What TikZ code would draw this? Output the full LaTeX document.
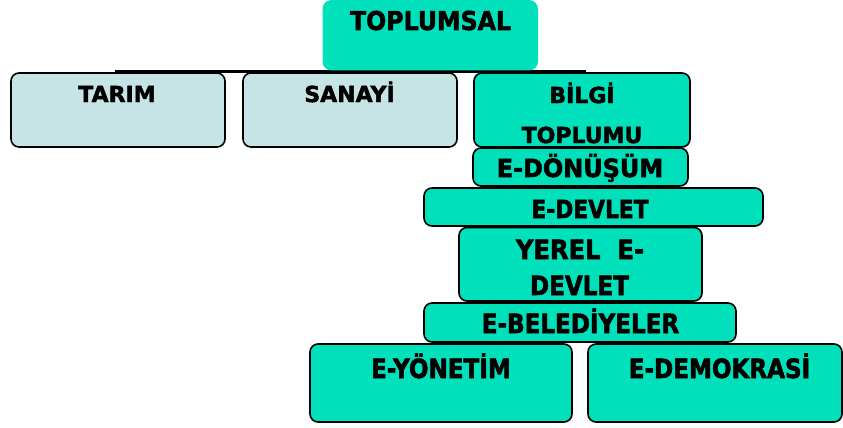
\documentclass[tikz,border=0pt]{standalone}
\usepackage{fontspec}
\setmainfont{DejaVu Sans}
\newfontfamily\topfont{DejaVu Sans}[FakeBold=2]
\newfontfamily\lowfont{DejaVu Sans}[FakeStretch=0.87,FakeBold=2]
\definecolor{teal}{RGB}{0,224,186}
\definecolor{pale}{RGB}{198,228,230}
\begin{document}
\begin{tikzpicture}[x=1pt,y=-1pt,
  boxteal/.style={fill=teal,draw=black,line width=1.6pt,rounded corners=8pt},
  boxpale/.style={fill=pale,draw=black,line width=1.6pt,rounded corners=8pt},
  lblA/.style={anchor=base,inner sep=0pt,font=\topfont\bfseries\fontsize{22}{26}\selectfont},
  lblB/.style={anchor=base,inner sep=0pt,font=\lowfont\bfseries\fontsize{26.5}{30}\selectfont}]
\useasboundingbox (0,0) rectangle (843,428);
\fill[white] (0,0) rectangle (843,428);
% connector bar
\coordinate (barL) at (115,71.5);
\coordinate (barR) at (586,71.5);
\draw[line width=3.5pt] (barL) -- (barR);
% top box
\fill[teal,rounded corners=9pt] (322.5,0) rectangle (538,70.5);
\node[lblA,font=\topfont\bfseries\fontsize{26}{30}\selectfont] (tTop) at (430.5,30) {\scalebox{0.91}[1]{TOPLUMSAL}};
% second row
\draw[boxpale] (11,73) rectangle (225,147);
\draw[boxpale] (243,73) rectangle (457,147);
\draw[boxteal] (474,73) rectangle (690,147);
\node[lblA] (tTarim) at (117,102) {TARIM};
\node[lblA] (tSanayi) at (349.5,102) {SANAYİ};
\node[lblA] (tBilgi) at (582,103) {BİLGİ};
\node[lblA] (tToplumu) at (582,143) {TOPLUMU};
% stack
\draw[boxteal] (473,148) rectangle (688,186);
\node[lblB,font=\lowfont\bfseries\fontsize{25}{30}\selectfont] (tDonusum) at (580,177) {\scalebox{1.1}[1]{E-DÖNÜŞÜM}};
\draw[boxteal] (424,188) rectangle (763,226);
\node[lblB,font=\lowfont\bfseries\fontsize{25}{30}\selectfont] (tDevlet) at (590,218) {E-DEVLET};
\draw[boxteal] (459,227.5) rectangle (702,301);
\node[lblB] (tYerel) at (580,259) {\scalebox{1.05}[1]{YEREL\ \ E-}};
\node[lblB] (tYerel2) at (579.5,295) {DEVLET};
\draw[boxteal] (424,303) rectangle (736,342);
\node[lblB] (tBelediye) at (580.5,333) {E-BELEDİYELER};
\draw[boxteal] (310,344) rectangle (572,422);
\node[lblB] (tYonetim) at (441,378) {E-YÖNETİM};
\draw[boxteal] (588,344) rectangle (842,422);
\node[lblB] (tDemokrasi) at (719.5,378) {E-DEMOKRASİ};
\end{tikzpicture}
\end{document}
